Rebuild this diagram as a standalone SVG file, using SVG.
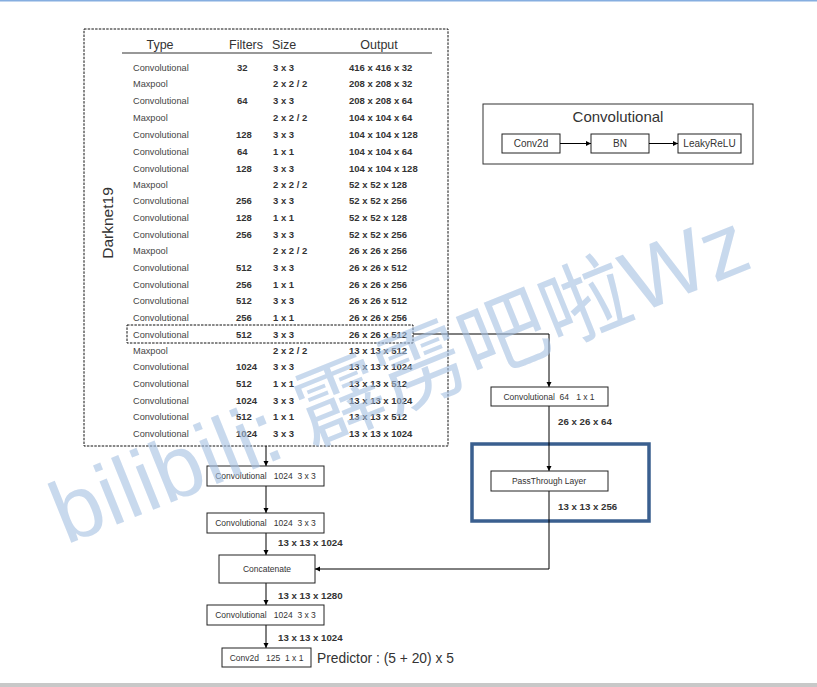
<svg xmlns="http://www.w3.org/2000/svg" width="817" height="687" viewBox="0 0 817 687">
<defs>
<marker id="ah" markerWidth="6" markerHeight="6" refX="5" refY="3" orient="auto" markerUnits="userSpaceOnUse">
<path d="M0,0.5 L5,3 L0,5.5 Z" fill="#000"/>
</marker>
<style>
.box{fill:#fff;stroke:#222;stroke-width:1}
.dash{fill:none;stroke:#111;stroke-width:1;stroke-dasharray:2.5 1.2}
.con{fill:none;stroke:#000;stroke-width:1;marker-end:url(#ah)}
.t{font-family:"Liberation Sans",Arial,sans-serif;font-size:9.2px;fill:#444}
.b{font-family:"Liberation Sans",Arial,sans-serif;font-size:9.5px;font-weight:bold;fill:#333}
.h{font-family:"Liberation Sans",Arial,sans-serif;font-size:12.5px;fill:#333}
.n{font-family:"Liberation Sans",Arial,sans-serif;font-size:8.5px;fill:#333;text-anchor:middle}
.lb{font-family:"Liberation Sans",Arial,sans-serif;font-size:9.7px;font-weight:bold;fill:#333}
</style>
</defs>
<rect x="0" y="0" width="817" height="687" fill="#fff"/>
<rect x="0" y="0" width="817" height="1.5" fill="#86aee0"/>
<rect x="0" y="683" width="817" height="4" fill="#c8c8c8"/>

<g id="darknet19">
<rect class="dash" x="84" y="29" width="364" height="417"/>
<text class="h" transform="translate(113,223) rotate(-90)" text-anchor="middle" style="font-size:15.5px">Darknet19</text>
<text class="h" x="160" y="49" text-anchor="middle">Type</text>
<text class="h" x="229" y="49">Filters</text>
<text class="h" x="272" y="49">Size</text>
<text class="h" x="379" y="49" text-anchor="middle">Output</text>
<line x1="122" y1="53" x2="432" y2="53" stroke="#333" stroke-width="1.2"/>
<g class="rows">
<text class="t" x="133" y="71">Convolutional</text><text class="b" x="237" y="71">32</text><text class="b" x="273" y="71">3 x 3</text><text class="b" x="349" y="71">416 x 416 x 32</text>
<text class="t" x="133" y="87">Maxpool</text><text class="b" x="273" y="87">2 x 2 / 2</text><text class="b" x="349" y="87">208 x 208 x 32</text>
<text class="t" x="133" y="104">Convolutional</text><text class="b" x="237" y="104">64</text><text class="b" x="273" y="104">3 x 3</text><text class="b" x="349" y="104">208 x 208 x 64</text>
<text class="t" x="133" y="121">Maxpool</text><text class="b" x="273" y="121">2 x 2 / 2</text><text class="b" x="349" y="121">104 x 104 x 64</text>
<text class="t" x="133" y="138">Convolutional</text><text class="b" x="236" y="138">128</text><text class="b" x="273" y="138">3 x 3</text><text class="b" x="349" y="138">104 x 104 x 128</text>
<text class="t" x="133" y="155">Convolutional</text><text class="b" x="237" y="155">64</text><text class="b" x="273" y="155">1 x 1</text><text class="b" x="349" y="155">104 x 104 x 64</text>
<text class="t" x="133" y="172">Convolutional</text><text class="b" x="236" y="172">128</text><text class="b" x="273" y="172">3 x 3</text><text class="b" x="349" y="172">104 x 104 x 128</text>
<text class="t" x="133" y="188">Maxpool</text><text class="b" x="273" y="188">2 x 2 / 2</text><text class="b" x="349" y="188">52 x 52 x 128</text>
<text class="t" x="133" y="204">Convolutional</text><text class="b" x="236" y="204">256</text><text class="b" x="273" y="204">3 x 3</text><text class="b" x="349" y="204">52 x 52 x 256</text>
<text class="t" x="133" y="221">Convolutional</text><text class="b" x="236" y="221">128</text><text class="b" x="273" y="221">1 x 1</text><text class="b" x="349" y="221">52 x 52 x 128</text>
<text class="t" x="133" y="238">Convolutional</text><text class="b" x="236" y="238">256</text><text class="b" x="273" y="238">3 x 3</text><text class="b" x="349" y="238">52 x 52 x 256</text>
<text class="t" x="133" y="254">Maxpool</text><text class="b" x="273" y="254">2 x 2 / 2</text><text class="b" x="349" y="254">26 x 26 x 256</text>
<text class="t" x="133" y="271">Convolutional</text><text class="b" x="236" y="271">512</text><text class="b" x="273" y="271">3 x 3</text><text class="b" x="349" y="271">26 x 26 x 512</text>
<text class="t" x="133" y="288">Convolutional</text><text class="b" x="236" y="288">256</text><text class="b" x="273" y="288">1 x 1</text><text class="b" x="349" y="288">26 x 26 x 256</text>
<text class="t" x="133" y="304">Convolutional</text><text class="b" x="236" y="304">512</text><text class="b" x="273" y="304">3 x 3</text><text class="b" x="349" y="304">26 x 26 x 512</text>
<text class="t" x="133" y="321">Convolutional</text><text class="b" x="236" y="321">256</text><text class="b" x="273" y="321">1 x 1</text><text class="b" x="349" y="321">26 x 26 x 256</text>
<text class="t" x="133" y="338">Convolutional</text><text class="b" x="236" y="338">512</text><text class="b" x="273" y="338">3 x 3</text><text class="b" x="349" y="338">26 x 26 x 512</text>
<text class="t" x="133" y="354">Maxpool</text><text class="b" x="273" y="354">2 x 2 / 2</text><text class="b" x="349" y="354">13 x 13 x 512</text>
<text class="t" x="133" y="370">Convolutional</text><text class="b" x="236" y="370">1024</text><text class="b" x="273" y="370">3 x 3</text><text class="b" x="349" y="370">13 x 13 x 1024</text>
<text class="t" x="133" y="387">Convolutional</text><text class="b" x="236" y="387">512</text><text class="b" x="273" y="387">1 x 1</text><text class="b" x="349" y="387">13 x 13 x 512</text>
<text class="t" x="133" y="404">Convolutional</text><text class="b" x="236" y="404">1024</text><text class="b" x="273" y="404">3 x 3</text><text class="b" x="349" y="404">13 x 13 x 1024</text>
<text class="t" x="133" y="420">Convolutional</text><text class="b" x="236" y="420">512</text><text class="b" x="273" y="420">1 x 1</text><text class="b" x="349" y="420">13 x 13 x 512</text>
<text class="t" x="133" y="437">Convolutional</text><text class="b" x="236" y="437">1024</text><text class="b" x="273" y="437">3 x 3</text><text class="b" x="349" y="437">13 x 13 x 1024</text>
</g>
</g>
<g id="highlight-row">
<rect class="dash" x="127" y="325" width="286" height="18"/>
</g>

<g id="conv-legend">
<rect x="483" y="104" width="270" height="60" fill="#fff" stroke="#333" stroke-width="1"/>
<text class="h" x="618" y="122" text-anchor="middle" style="font-size:15px">Convolutional</text>
<rect class="box" x="502" y="134" width="58" height="19"/>
<text class="n" x="531" y="147" style="font-size:10px">Conv2d</text>
<rect class="box" x="591" y="134" width="58" height="19"/>
<text class="n" x="620" y="147" style="font-size:10px">BN</text>
<rect class="box" x="678" y="134" width="63" height="19"/>
<text class="n" x="709.5" y="147" style="font-size:10px">LeakyReLU</text>
<line class="con" x1="560" y1="143.5" x2="591" y2="143.5"/>
<line class="con" x1="649" y1="143.5" x2="678" y2="143.5"/>
</g>

<g id="passthrough-group">
<rect x="472" y="444" width="177" height="77" fill="none" stroke="#3a5f8f" stroke-width="3.5"/>
</g>

<g id="connectors">
<polyline class="con" points="413,334 549,334 549,387"/>
<line class="con" x1="549" y1="406" x2="549" y2="471"/>
<polyline class="con" points="549,491 549,569 315,569"/>
<line class="con" x1="266" y1="446" x2="266" y2="466"/>
<line class="con" x1="266" y1="486" x2="266" y2="513"/>
<line class="con" x1="266" y1="533" x2="266" y2="555"/>
<line class="con" x1="266" y1="583" x2="266" y2="605"/>
<line class="con" x1="266" y1="625" x2="266" y2="648"/>
<text class="lb" x="558" y="425">26 x 26 x 64</text>
<text class="lb" x="558" y="510">13 x 13 x 256</text>
<text class="lb" x="278" y="546">13 x 13 x 1024</text>
<text class="lb" x="278" y="599">13 x 13 x 1280</text>
<text class="lb" x="278" y="641">13 x 13 x 1024</text>
</g>

<g id="conv64">
<rect class="box" x="491" y="387" width="117" height="19"/>
<text class="n" x="549" y="400" xml:space="preserve">Convolutional  64   1 x 1</text>
</g>
<g id="passthrough">
<rect class="box" x="491" y="471" width="117" height="20"/>
<text class="n" x="549" y="484">PassThrough Layer</text>
</g>
<g id="conv1024a">
<rect class="box" x="207" y="466" width="117" height="20"/>
<text class="n" x="265.5" y="479" xml:space="preserve">Convolutional   1024  3 x 3</text>
</g>
<g id="conv1024b">
<rect class="box" x="207" y="513" width="117" height="20"/>
<text class="n" x="265.5" y="526" xml:space="preserve">Convolutional   1024  3 x 3</text>
</g>
<g id="concatenate">
<rect class="box" x="219" y="555" width="96" height="28"/>
<text class="n" x="267" y="572">Concatenate</text>
</g>
<g id="conv1024c">
<rect class="box" x="207" y="605" width="117" height="20"/>
<text class="n" x="265.5" y="618" xml:space="preserve">Convolutional   1024  3 x 3</text>
</g>
<g id="conv2d125">
<rect class="box" x="222" y="648" width="89" height="19"/>
<text class="n" x="266.5" y="661" xml:space="preserve">Conv2d   125  1 x 1</text>
</g>
<text x="317" y="663" style="font-family:'Liberation Sans',Arial,sans-serif;font-size:13.8px;fill:#333">Predictor : (5 + 20) x 5</text>

<g id="watermark" opacity="0.6">
<text transform="translate(66,545) rotate(-22)" style="font-family:'Liberation Sans','Noto Sans CJK SC',sans-serif;font-size:88px;fill:#a5c0e2" xml:space="preserve">bilibili: 霹雳吧啦Wz</text>
</g>
</svg>
